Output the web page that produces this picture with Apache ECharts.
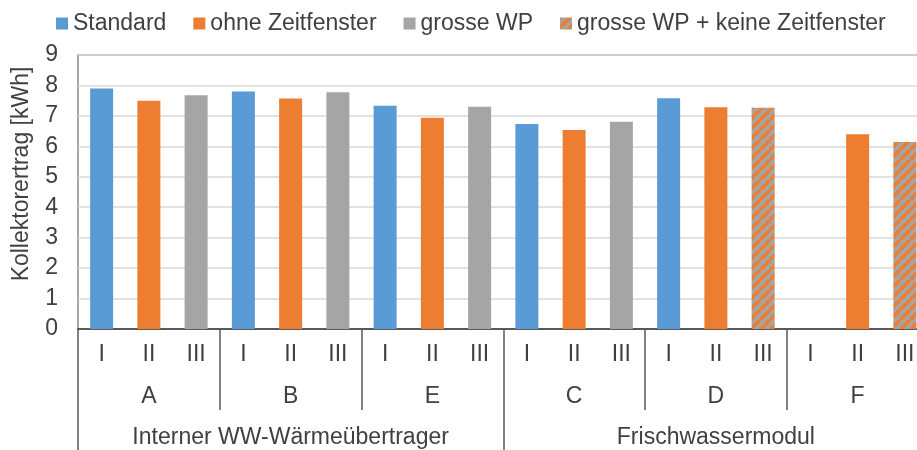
<!DOCTYPE html>
<html>
<head>
<meta charset="utf-8">
<script src="https://cdn.jsdelivr.net/npm/echarts@6/dist/echarts.min.js"></script>
<style>
  html, body { margin: 0; padding: 0; background: #fff; overflow: hidden; }
  #chart { width: 929px; height: 450px; }
</style>
</head>
<body>
<div id="chart"></div>
<script>
// Achsenbeschriftungen (3 Ebenen)
var levels = ['I', 'II', 'III'];
var variants = ['A', 'B', 'E', 'C', 'D', 'F'];
var systems = ['Interner WW-Wärmeübertrager', 'Frischwassermodul'];

// Werte je Variante (Kollektorertrag in kWh)
var standard = [7.9, 7.8, 7.33, 6.73, 7.58, null];          // Position I
var ohneZeitfenster = [7.5, 7.57, 6.94, 6.54, 7.28, 6.4];   // Position II
var grosseWP = [7.68, 7.78, 7.3, 6.81, null, null];         // Position III
var grosseWPKeine = [null, null, null, null, 7.27, 6.14];   // Position III (schraffiert)

var seriesNames = ['Standard', 'ohne Zeitfenster', 'grosse WP', 'grosse WP + keine Zeitfenster'];
var yTicks = [0, 1, 2, 3, 4, 5, 6, 7, 8, 9];

var FONT = "'Liberation Sans', Arial, sans-serif";
var TXT = '#404040';
var FS = 23;

// 18 Kategorien aufbauen
var cats = [];
variants.forEach(function (v) {
    levels.forEach(function (l) { cats.push(l); });
});
function spread(arr, pos) {
    var out = [];
    for (var i = 0; i < variants.length; i++) {
        for (var j = 0; j < levels.length; j++) {
            out.push(j === pos ? arr[i] : null);
        }
    }
    return out;
}

// Schraffur grau/orange
function hatch() {
    var s = 10;
    var c = document.createElement('canvas');
    c.width = s; c.height = s;
    var ctx = c.getContext('2d');
    ctx.fillStyle = '#a5a5a5';
    ctx.fillRect(0, 0, s, s);
    ctx.strokeStyle = '#ed7d31';
    ctx.lineWidth = 3.6;
    ctx.beginPath();
    [-s, 0, s].forEach(function (k) {
        ctx.moveTo(k, s);
        ctx.lineTo(k + s, 0);
    });
    ctx.stroke();
    return { image: c, repeat: 'repeat' };
}

var colors = ['#5b9bd5', '#ed7d31', '#a5a5a5', hatch()];
var dataSets = [
    spread(standard, 0),
    spread(ohneZeitfenster, 1),
    spread(grosseWP, 2),
    spread(grosseWPKeine, 2)
];

var series = [];
for (var i = 0; i < seriesNames.length; i++) {
    series.push({
        name: seriesNames[i],
        type: 'bar',
        stack: 'all',
        barWidth: 23,
        itemStyle: { color: colors[i] },
        data: dataSets[i]
    });
}

var option = {
    animation: false,
    textStyle: { fontFamily: FONT },
    legend: {
        left: 56,
        top: 12,
        padding: 0,
        itemWidth: 12,
        itemHeight: 12,
        itemGap: 27,
        icon: 'rect',
        textStyle: { fontSize: FS, color: TXT, fontFamily: FONT },
        data: seriesNames
    },
    grid: {
        left: 78,
        right: 0.5,
        top: 55,
        bottom: 121,
        show: true,
        borderColor: '#8c8c8c',
        borderWidth: 1.5
    },
    xAxis: [
        {
            type: 'category',
            data: cats,
            position: 'bottom',
            axisLine: { lineStyle: { color: '#595959', width: 2 } },
            axisTick: { show: false },
            axisLabel: { interval: 0, margin: 14, fontSize: FS, color: TXT, fontFamily: FONT }
        },
        {
            type: 'category',
            data: variants,
            position: 'bottom',
            axisLine: { show: false },
            axisTick: { show: true, interval: 0, length: 81, lineStyle: { color: '#595959', width: 1.5 } },
            axisLabel: { interval: 0, margin: 56, fontSize: FS, color: TXT, fontFamily: FONT }
        },
        {
            type: 'category',
            data: systems,
            position: 'bottom',
            axisLine: { show: false },
            axisTick: { show: true, interval: 0, length: 125, lineStyle: { color: '#595959', width: 1.5 } },
            axisLabel: { interval: 0, margin: 97, fontSize: FS, color: TXT, fontFamily: FONT }
        }
    ],
    yAxis: {
        type: 'value',
        min: yTicks[0],
        max: yTicks[yTicks.length - 1],
        interval: 1,
        axisLine: { show: false },
        axisTick: { show: false },
        axisLabel: { margin: 20, fontSize: FS, color: TXT, fontFamily: FONT },
        splitLine: { lineStyle: { color: '#d9d9d9', width: 1.5 } }
    },
    graphic: [
        {
            type: 'text',
            x: 22,
            y: 174,
            rotation: Math.PI / 2,
            style: {
                text: 'Kollektorertrag [kWh]',
                font: FS + 'px ' + FONT,
                fill: TXT,
                textAlign: 'center',
                textVerticalAlign: 'middle'
            }
        }
    ],
    series: series
};

var myChart = echarts.init(document.getElementById('chart'));
myChart.setOption(option);
</script>
</body>
</html>
